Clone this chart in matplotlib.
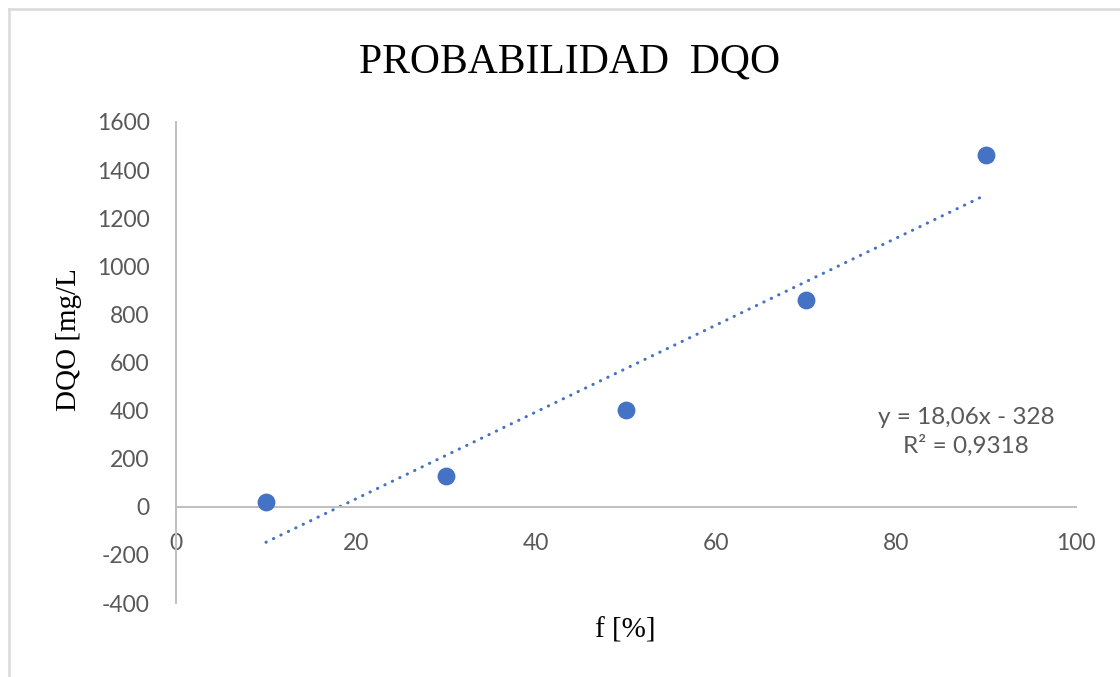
import matplotlib
matplotlib.use('Agg')
import matplotlib.pyplot as plt
from matplotlib.lines import Line2D
import numpy as np

# Probability plot data: cumulative frequency vs DQO
freq_pct = [10, 30, 50, 70, 90]
dqo_mg_l = [18, 129, 404, 858, 1462]

# Linear trendline as reported on the chart
slope = 18.06
intercept = -328
r_squared = 0.9318

x_ticks = [0, 20, 40, 60, 80, 100]
y_ticks = [-400, -200, 0, 200, 400, 600, 800, 1000, 1200, 1400, 1600]

BLUE = '#4472C4'
AXIS_GRAY = '#BFBFBF'
TEXT_GRAY = '#595959'
SERIF = ['Liberation Serif', 'DejaVu Serif']
SANS = ['Lato', 'DejaVu Sans']

plt.rcParams['axes.unicode_minus'] = False

fig = plt.figure(figsize=(11.2, 6.77), dpi=100)
ax = fig.add_axes([176 / 1120, 1 - 603 / 677, 900 / 1120, 481 / 677])

ax.scatter(freq_pct, dqo_mg_l, s=165, color=BLUE, zorder=3, linewidths=0)

xs = np.array([freq_pct[0], freq_pct[-1]])
ax.plot(xs, slope * xs + intercept, color=BLUE, lw=2.2,
        linestyle=(0, (0.1, 2.6)), dash_capstyle='round', zorder=2)

ax.set_xlim(0, 100)
ax.set_ylim(-400, 1600)
ax.set_xticks(x_ticks)
ax.set_yticks(y_ticks)

for side in ('top', 'right'):
    ax.spines[side].set_visible(False)
ax.spines['bottom'].set_position(('data', 0))
for side in ('left', 'bottom'):
    ax.spines[side].set_color(AXIS_GRAY)
    ax.spines[side].set_linewidth(1.4)

ax.tick_params(axis='both', length=0, labelsize=16.5, labelcolor=TEXT_GRAY)
ax.tick_params(axis='y', pad=19)
ax.tick_params(axis='x', pad=19)
for lbl in ax.get_xticklabels() + ax.get_yticklabels():
    lbl.set_family(SANS)

fig.text(570 / 1120, 1 - 62 / 677, 'PROBABILIDAD  DQO', family=SERIF,
         fontsize=30, ha='center', va='center', color='black')
fig.text(69 / 1120, 1 - 340 / 677, 'DQO [mg/L', family=SERIF, fontsize=21,
         rotation=90, ha='center', va='center', color='black')
fig.text(625 / 1120, 1 - 630 / 677, 'f [%]', family=SERIF, fontsize=21,
         ha='center', va='center', color='black')

eq_text = 'y = {:.2f}x - {}\nR² = {:.4f}'.format(slope, abs(intercept), r_squared)
eq_text = eq_text.replace('.', ',')
fig.text(966 / 1120, 1 - 432 / 677, eq_text, family=SANS, fontsize=17.5,
         color=TEXT_GRAY, ha='center', va='center', linespacing=1.38)

# Chart area frame (partially visible on the top and left edges)
fig.add_artist(Line2D([9 / 1120, 1], [1 - 9 / 677, 1 - 9 / 677],
                      transform=fig.transFigure, color='#D9D9D9', lw=1.8))
fig.add_artist(Line2D([9 / 1120, 9 / 1120], [0, 1 - 9 / 677],
                      transform=fig.transFigure, color='#D9D9D9', lw=1.8))

fig.savefig('out.png', dpi=100)
